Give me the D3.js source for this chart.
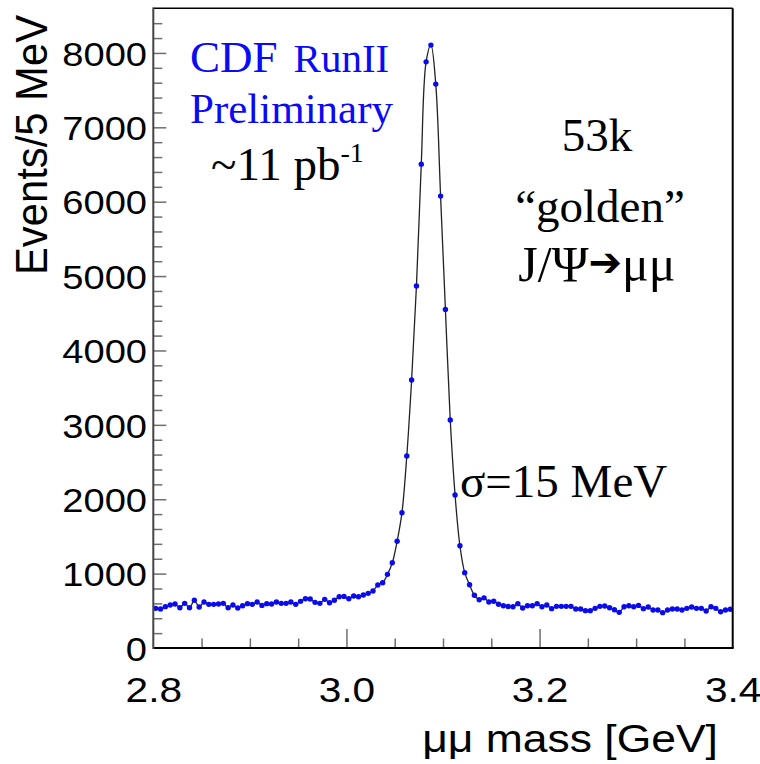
<!DOCTYPE html>
<html>
<head>
<meta charset="utf-8">
<script src="https://cdn.jsdelivr.net/npm/d3@7"></script>
<style>
  body { margin: 0; background: #fff; }
  svg { display: block; }
</style>
</head>
<body>
<svg id="chart" width="760" height="764"></svg>
<script>
// Dimuon invariant-mass histogram, 5 MeV bins from 2.8 to 3.4 GeV
const binLow = 2.8;
const binWidth = 0.005;
const eventsPerBin = [
  533, 524, 556, 578, 591, 542, 600, 542, 641, 551,
  618, 587, 587, 591, 600, 542, 578, 538, 569, 596,
  587, 618, 573, 596, 591, 618, 600, 600, 618, 587,
  627, 663, 659, 614, 600, 654, 609, 641, 690, 694,
  663, 699, 690, 712, 735, 766, 847, 878, 990, 1147,
  1435, 1819, 2581, 3602, 4866, 6505, 7880, 8105, 7581, 6075,
  4552, 3065, 2056, 1375, 1013, 850, 710, 648, 674, 618,
  628, 589, 569, 558, 555, 596, 538, 569, 569, 596,
  555, 578, 529, 560, 560, 560, 560, 524, 524, 502,
  502, 533, 560, 564, 542, 515, 479, 555, 569, 555,
  573, 529, 551, 511, 511, 475, 511, 524, 524, 511,
  533, 551, 533, 533, 497, 555, 533, 488, 511, 520
];
const yTickLabels = [0, 1000, 2000, 3000, 4000, 5000, 6000, 7000, 8000];
const xTickLabels = [2.8, 3.0, 3.2, 3.4];
const yMinorTicks = d3.range(200, 8600, 200);
const xMinorTicks = [2.85, 2.9, 2.95, 3.05, 3.1, 3.15, 3.25, 3.3, 3.35];
const xMajorTicks = [3.0, 3.2];

const svg = d3.select("#chart");
const frame = { left: 153.3, right: 732.7, top: 8.3, bottom: 648 };

const x = d3.scaleLinear().domain([2.8, 3.4]).range([frame.left, frame.right]);
const y = d3.scaleLinear().domain([0, 8600]).range([frame.bottom, frame.top]);

const bins = eventsPerBin.map((v, i) => ({ m: binLow + binWidth * (i + 0.5), n: v }));

const SANS = "'Liberation Sans', Arial, Helvetica, sans-serif";
const SERIF = "'Liberation Serif', 'Times New Roman', serif";

// stretch a text element horizontally to a given factor of its natural width
function widen(sel, factor) {
  sel.each(function () {
    const w = this.getComputedTextLength();
    d3.select(this).attr("textLength", w * factor).attr("lengthAdjust", "spacingAndGlyphs");
  });
}

// --- inner tick marks -----------------------------------------------------
const tickColor = "#6e6e6e";
const yMinorAxis = svg.append("g")
  .attr("transform", `translate(${frame.left},0)`)
  .call(d3.axisRight(y).tickValues(yMinorTicks.filter(v => v % 1000 !== 0)).tickSize(9).tickFormat(""));
const yMajorAxis = svg.append("g")
  .attr("transform", `translate(${frame.left},0)`)
  .call(d3.axisRight(y).tickValues(yTickLabels.slice(1)).tickSize(13).tickFormat(""));
const xMinorAxis = svg.append("g")
  .attr("transform", `translate(0,${frame.bottom})`)
  .call(d3.axisTop(x).tickValues(xMinorTicks).tickSize(9.5).tickFormat(""));
const xMajorAxis = svg.append("g")
  .attr("transform", `translate(0,${frame.bottom})`)
  .call(d3.axisTop(x).tickValues(xMajorTicks).tickSize(19).tickFormat(""));
[yMinorAxis, yMajorAxis, xMinorAxis, xMajorAxis].forEach(g => {
  g.select(".domain").remove();
  g.selectAll(".tick line").attr("stroke", tickColor).attr("stroke-width", 1.5);
});

// --- tick labels ----------------------------------------------------------
const yLabelAxis = svg.append("g")
  .attr("transform", `translate(147,0)`)
  .call(d3.axisLeft(y).tickValues(yTickLabels).tickSize(0).tickPadding(0).tickFormat(d3.format("d")));
yLabelAxis.select(".domain").remove();
yLabelAxis.selectAll(".tick text")
  .attr("font-family", SANS).attr("font-size", 34).attr("fill", "#000")
  .attr("dy", "0.36em");
widen(yLabelAxis.selectAll(".tick text"), 1.12);

const xLabelAxis = svg.append("g")
  .attr("transform", `translate(0,702)`)
  .call(d3.axisBottom(x).tickValues(xTickLabels).tickSize(0).tickPadding(0).tickFormat(d3.format(".1f")));
xLabelAxis.select(".domain").remove();
xLabelAxis.selectAll(".tick text")
  .attr("font-family", SANS).attr("font-size", 35).attr("fill", "#000")
  .attr("dy", 0);
widen(xLabelAxis.selectAll(".tick text"), 1.16);

// --- axis titles ----------------------------------------------------------
const yTitle = svg.append("text")
  .attr("transform", "translate(47,145) rotate(-90)")
  .attr("text-anchor", "middle")
  .attr("font-family", SANS).attr("font-size", 44)
  .text("Events/5 MeV");
yTitle.attr("textLength", 260).attr("lengthAdjust", "spacingAndGlyphs");

const xTitle = svg.append("text")
  .attr("x", 718).attr("y", 752)
  .attr("text-anchor", "end")
  .attr("font-family", SANS).attr("font-size", 38)
  .text("μμ mass [GeV]");
widen(xTitle, 1.17);

// --- curve and data points ------------------------------------------------
const line = d3.line()
  .x(d => x(d.m))
  .y(d => y(d.n))
  .curve(d3.curveCatmullRom.alpha(0.5));

svg.append("path")
  .datum(bins)
  .attr("d", line)
  .attr("fill", "none")
  .attr("stroke", "#222")
  .attr("stroke-width", 1.3);

svg.append("g")
  .selectAll("circle")
  .data(bins)
  .join("circle")
  .attr("cx", d => x(d.m))
  .attr("cy", d => y(d.n))
  .attr("r", 2.7)
  .attr("fill", "#0a0aee");

// --- frame ----------------------------------------------------------------
svg.append("line").attr("x1", frame.left).attr("x2", frame.right).attr("y1", frame.top).attr("y2", frame.top)
  .attr("stroke", "#000").attr("stroke-width", 1.6);
svg.append("line").attr("x1", frame.right).attr("x2", frame.right).attr("y1", frame.top).attr("y2", frame.bottom)
  .attr("stroke", "#000").attr("stroke-width", 2);
svg.append("line").attr("x1", frame.left).attr("x2", frame.right + 1).attr("y1", frame.bottom).attr("y2", frame.bottom)
  .attr("stroke", "#000").attr("stroke-width", 2);
svg.append("line").attr("x1", frame.left).attr("x2", frame.left).attr("y1", frame.top - 0.8).attr("y2", frame.bottom + 1)
  .attr("stroke", "#444").attr("stroke-width", 2);

// --- annotations ----------------------------------------------------------
const blue = "#0a0af5";
const cdf = svg.append("text").attr("x", 190).attr("y", 72)
  .attr("font-family", SERIF).attr("fill", blue);
cdf.append("tspan").attr("font-size", 45).text("CDF");
cdf.append("tspan").attr("font-size", 41).attr("dx", 16).text("RunII");

svg.append("text").attr("x", 190).attr("y", 123)
  .attr("font-family", SERIF).attr("font-size", 43).attr("fill", blue)
  .text("Preliminary");

const lumi = svg.append("text").attr("x", 211).attr("y", 180)
  .attr("font-family", SERIF).attr("font-size", 47).attr("fill", "#000");
lumi.append("tspan").text("~11 pb");
lumi.append("tspan").attr("font-size", 28).attr("dy", -18).text("-1");

const right = svg.append("g")
  .attr("font-family", SERIF).attr("font-size", 47).attr("fill", "#000")
  .attr("text-anchor", "middle");
right.append("text").attr("x", 597).attr("y", 151).text("53k");
right.append("text").attr("x", 600).attr("y", 222).text("“golden”");
const jpsi = right.append("text").attr("x", 597).attr("y", 281).attr("font-size", 50);
jpsi.append("tspan").text("J/Ψ");
jpsi.append("tspan").attr("font-family", "'DejaVu Sans', sans-serif").attr("font-size", 40).attr("dy", -5).text("➔");
jpsi.append("tspan").attr("dy", 5).text("μμ");

svg.append("text").attr("x", 460).attr("y", 497)
  .attr("font-family", SERIF).attr("font-size", 47).attr("fill", "#000")
  .text("σ=15 MeV");
</script>
</body>
</html>
